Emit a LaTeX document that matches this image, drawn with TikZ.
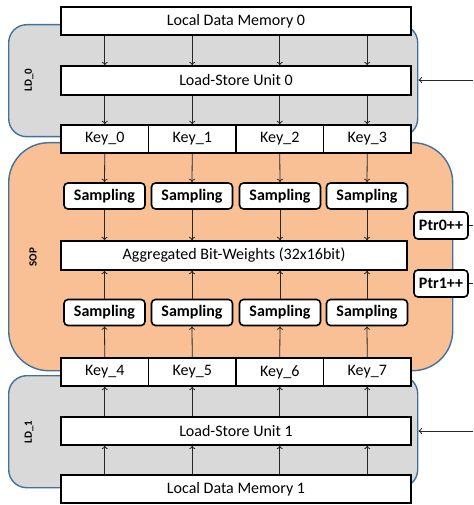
\documentclass[tikz,border=0pt]{standalone}
\usepackage{fontspec}
\setmainfont{Carlito}
\usetikzlibrary{arrows.meta}
\definecolor{regionline}{HTML}{41719C}
\definecolor{ldfill}{HTML}{D9D9D9}
\definecolor{sopfill}{HTML}{F8C094}
\definecolor{wire}{HTML}{262626}
\tikzset{
  x=1pt, y=-1pt,
  region/.style={draw=regionline, line width=1.4pt, anchor=north west, inner sep=0pt},
  bar/.style={draw=black, fill=white, line width=1.3pt, inner sep=0pt,
    font=\fontsize{16}{19}\selectfont, text=black},
  keycell/.style={bar, minimum width=87.5pt, minimum height=28pt},
  sampler/.style={draw=black, fill=white, line width=1.6pt, rounded corners=4pt,
    inner sep=0pt, minimum width=81pt, minimum height=26pt,
    font=\bfseries\fontsize{16}{19}\selectfont},
  ptr/.style={sampler, minimum width=54pt, minimum height=27pt},
  tag/.style={rotate=90, font=\bfseries\fontsize{11}{13}\selectfont},
  arr/.style={draw=wire, line width=0.8pt, -{To[length=3.5pt,width=6pt]}},
  wireline/.style={draw=wire, line width=0.8pt},
}
\begin{document}
\begin{tikzpicture}
\useasboundingbox (0,0) rectangle (473,505);

% background regions
\node[region, fill=ldfill, rounded corners=18pt, minimum width=409pt, minimum height=112pt] (ld0) at (8,24) {};
\node[region, fill=ldfill, rounded corners=18pt, minimum width=409pt, minimum height=112pt] (ld1) at (8,375) {};
\node[region, fill=sopfill, rounded corners=40pt, minimum width=444pt, minimum height=228pt] (sop) at (8,142) {};

\node[tag] (tld0) at (29,80) {LD\_0};
\node[tag] (tsop) at (33,257) {SOP};
\node[tag] (tld1) at (29,432) {LD\_1};

% memories and load-store units
\node[bar, minimum width=350pt, minimum height=28pt] (ldm0) at (236,21) {Local Data Memory 0};
\node[bar, minimum width=350pt, minimum height=29pt] (lsu0) at (236,80.5) {Load-Store Unit 0};
\node[bar, minimum width=350pt, minimum height=28pt] (lsu1) at (236,431) {Load-Store Unit 1};
\node[bar, minimum width=350pt, minimum height=28pt] (ldm1) at (236,489) {Local Data Memory 1};

% key cells
\foreach \i/\x in {0/104.75,1/192.25,2/279.75,3/367.25}{
  \node[keycell] (k\i) at (\x,139) {Key\_\i};
}
\foreach \i/\x in {4/104.75,5/192.25,6/279.75,7/367.25}{
  \node[keycell] (k\i) at (\x,372) {Key\_\i};
}

% samplers
\foreach \i/\x in {0/104.5,1/192,2/280,3/367}{
  \node[sampler] (s\i) at (\x,196) {Sampling};
}
\foreach \i/\x in {4/104.5,5/192,6/280,7/367}{
  \node[sampler] (s\i) at (\x,312.5) {Sampling};
}

\node[bar, minimum width=346pt, minimum height=29pt] (agg) at (234,255.5) {Aggregated Bit-Weights (32x16bit)};

\node[ptr] (p0) at (441,225.5) {Ptr0++};
\node[ptr] (p1) at (441,283.5) {Ptr1++};

% data paths
\foreach \i [evaluate=\i as \j using int(\i+4)] in {0,1,2,3}{
  \draw[arr] (ldm0.south -| k\i) -- (lsu0.north -| k\i);
  \draw[arr] (lsu0.south -| k\i) -- (k\i.north);
  \draw[arr] (k\i.south) -- (s\i.north);
  \draw[arr] (s\i.south) -- (agg.north -| s\i);
  \draw[arr] (k\j.north) -- (s\j.south);
  \draw[arr] (s\j.north) -- (agg.south -| s\j);
  \draw[arr] (lsu1.north -| k\j) -- (k\j.south);
  \draw[arr] (ldm1.north -| k\j) -- (lsu1.south -| k\j);
}

% external inputs
\coordinate (in0) at (473,80);
\coordinate (in1) at (473,431);
\draw[arr] (in0) -- (in0 -| ld0.east);
\draw[arr] (in1) -- (in1 -| ld1.east);
\coordinate (o0) at (473,225.5);
\coordinate (o1) at (473,283.5);
\draw[wireline] (p0.east) -- (o0);
\draw[wireline] (p1.east) -- (o1);
\end{tikzpicture}
\end{document}
